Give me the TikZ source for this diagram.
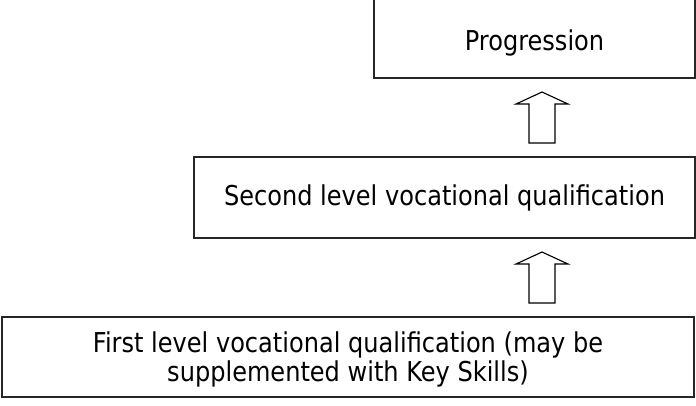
\documentclass[tikz,border=0pt]{standalone}
\usepackage{fontspec}
\setmainfont[FakeStretch=0.88]{DejaVu Sans}
\begin{document}
\begin{tikzpicture}[x=0.75pt,y=-0.75pt,
  box/.style={draw=black!85,line width=0.8pt,rectangle,inner sep=0pt,
    font=\fontsize{20.5}{21.75}\selectfont,align=center},
  blockarrow/.style={draw=black,line width=0.85pt,fill=white,line join=miter}]
\useasboundingbox (0,0) rectangle (696,405);
\clip (0,0) rectangle (696,405);
\node[box,minimum width=321*0.75pt,minimum height=82*0.75pt,text height=24pt] (prog) at (534.5,37) {Progression};
\node[box,minimum width=501*0.75pt,minimum height=81*0.75pt] (second) at (444.5,197.5) {Second level vocational qualification};
\node[box,minimum width=692*0.75pt,minimum height=80*0.75pt,text depth=0pt] (first) at (348,357) {First level vocational qualification (may be\\supplemented with Key Skills)};
\coordinate (a1) at (542,143);
\coordinate (a2) at (542,303);
\foreach \c in {a1,a2}{
  \draw[blockarrow] (\c) ++(-13,0) -- ++(0,-39) -- ++(-13,0) -- ++(26,-12) -- ++(26,12) -- ++(-13,0) -- ++(0,39) -- cycle;
}
\end{tikzpicture}
\end{document}
